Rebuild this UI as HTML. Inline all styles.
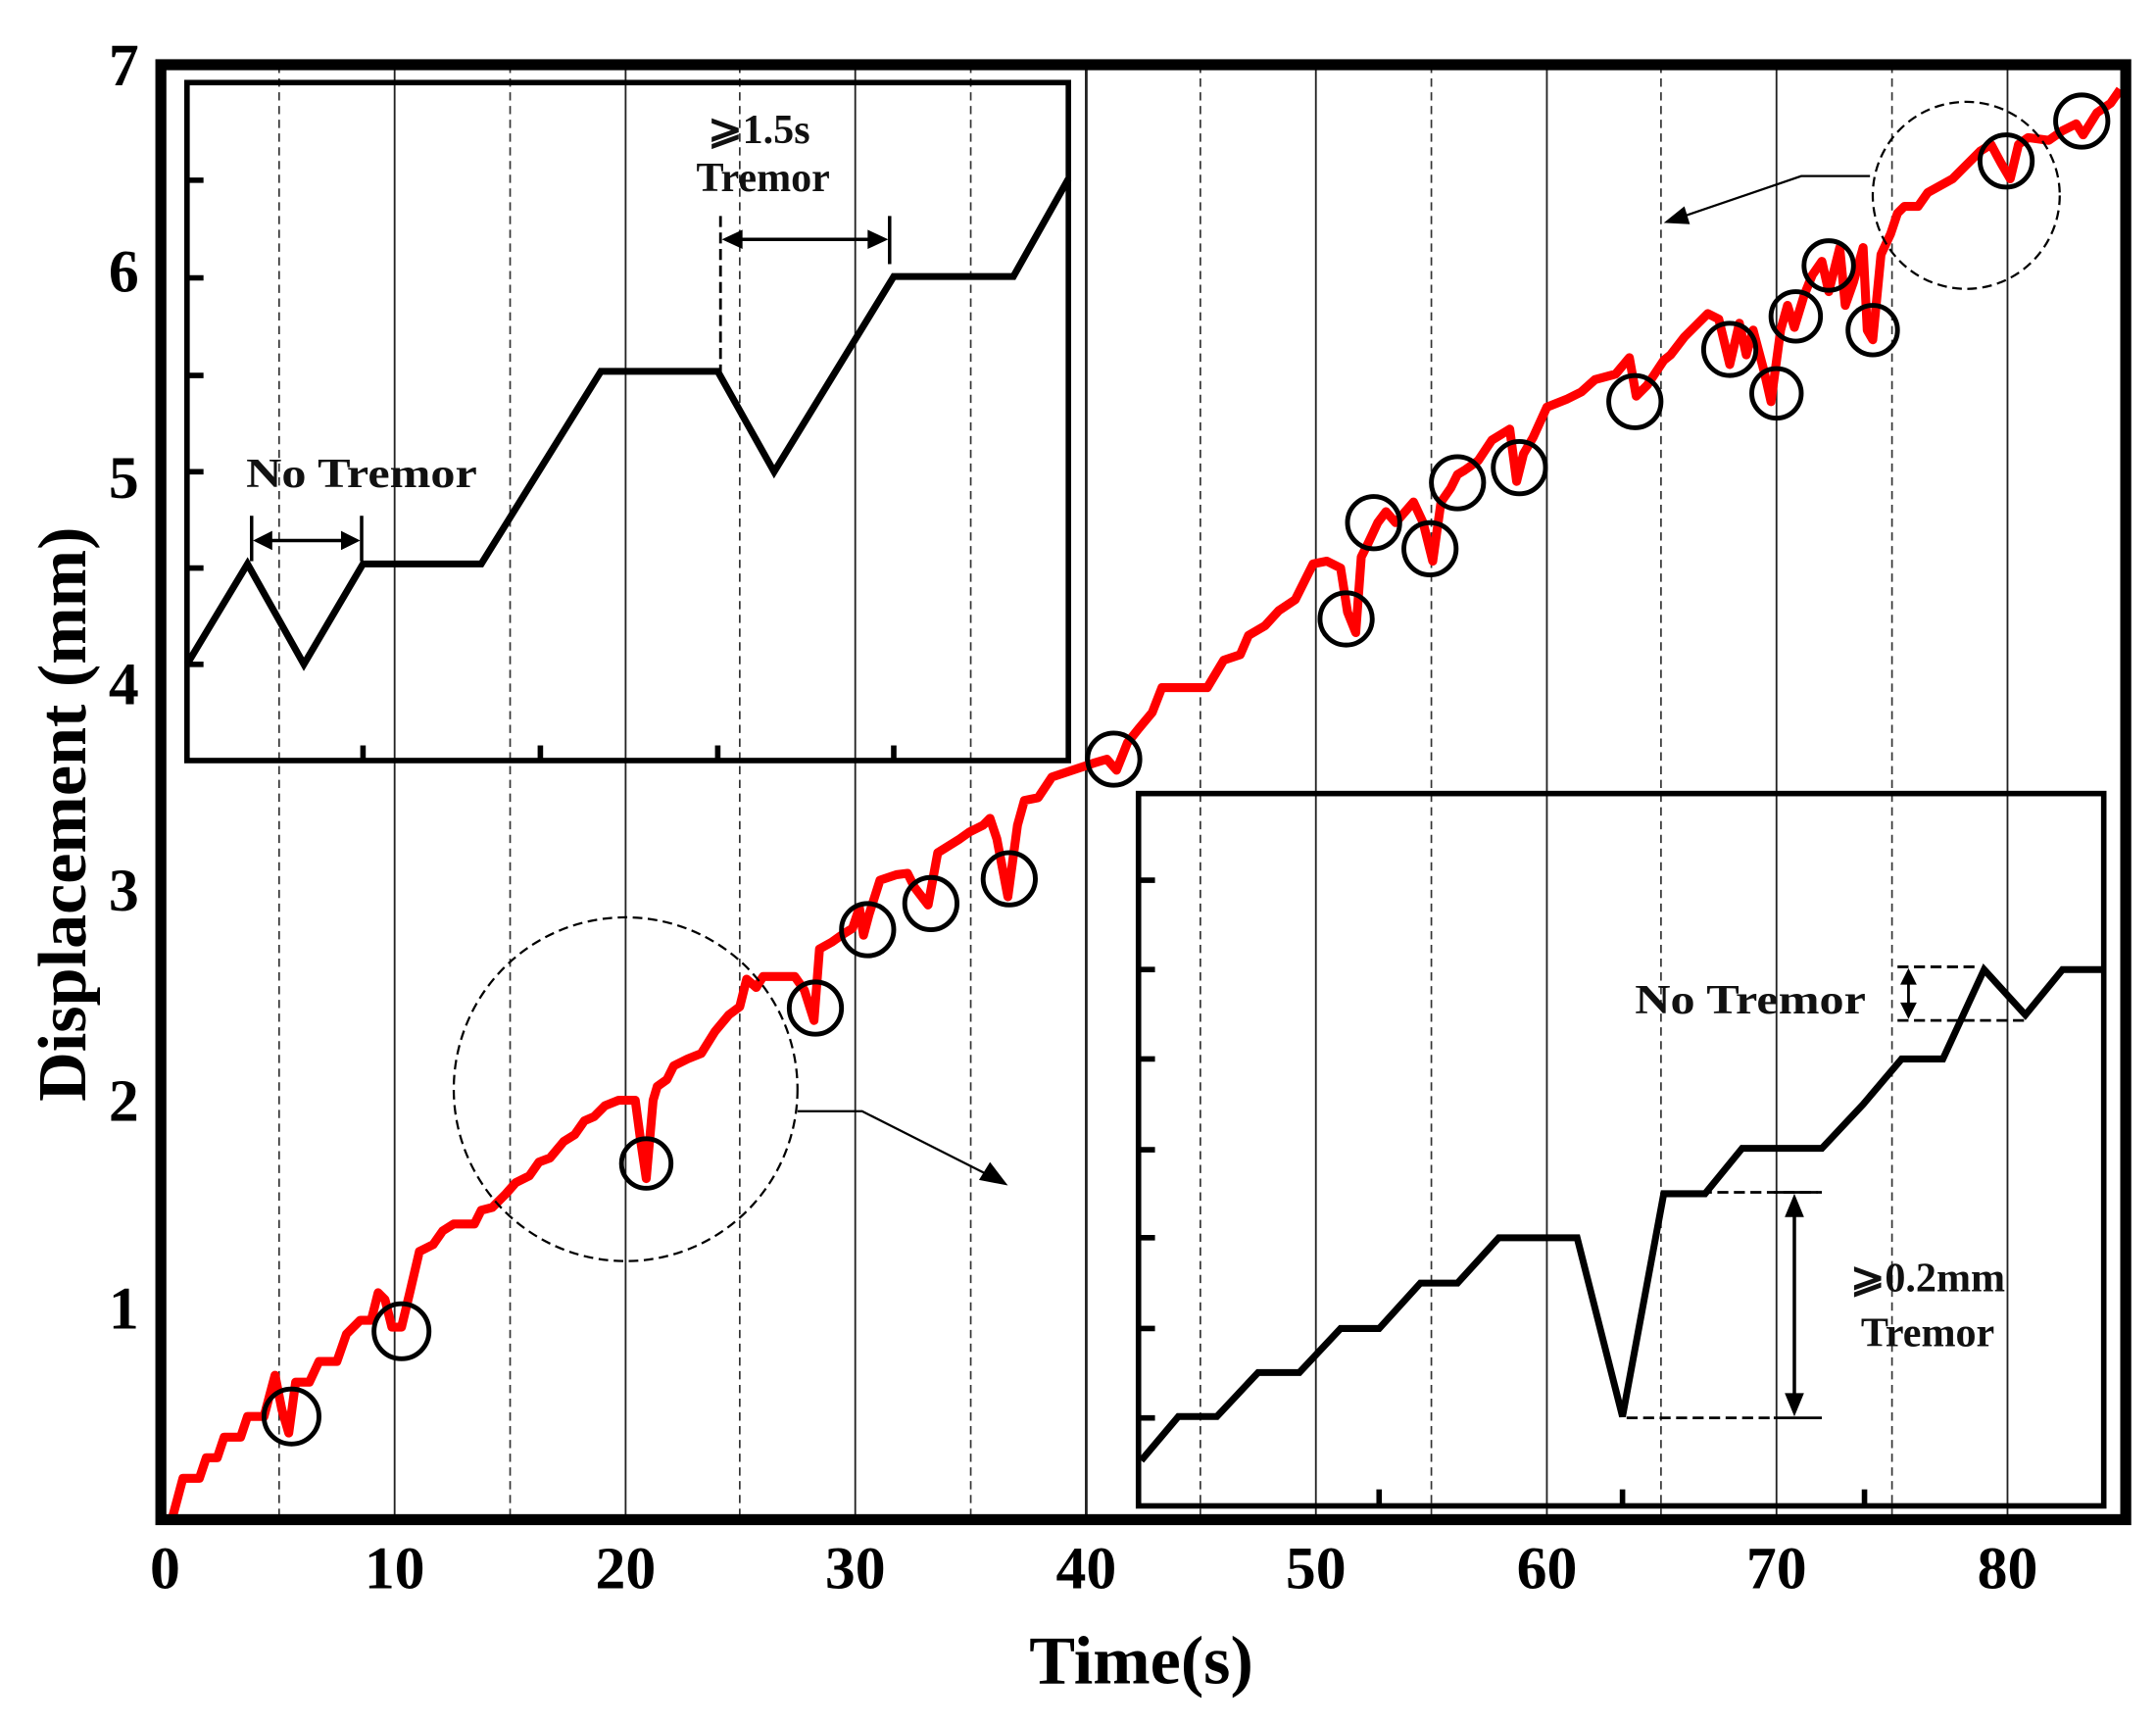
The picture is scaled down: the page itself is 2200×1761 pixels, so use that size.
<!DOCTYPE html>
<html><head><meta charset="utf-8"><style>
html,body{margin:0;padding:0;background:#fff;}
svg{display:block;}
text{font-family:"Liberation Serif","DejaVu Serif",serif;}
</style></head><body>
<svg width="2200" height="1761" viewBox="0 0 1568 1255" xmlns="http://www.w3.org/2000/svg">
<rect width="1568" height="1255" fill="#fff"/>
<g stroke="#222" stroke-width="1.3">
<line x1="287" y1="47" x2="287" y2="1105"/><line x1="455" y1="47" x2="455" y2="1105"/>
<line x1="622" y1="47" x2="622" y2="1105"/><line x1="790" y1="47" x2="790" y2="1105" stroke-width="2"/>
<line x1="957" y1="47" x2="957" y2="1105"/><line x1="1125" y1="47" x2="1125" y2="1105"/>
<line x1="1292" y1="47" x2="1292" y2="1105"/><line x1="1460" y1="47" x2="1460" y2="1105"/>
</g>
<g stroke="#333" stroke-width="1.2" stroke-dasharray="6,4">
<line x1="203" y1="47" x2="203" y2="1105"/><line x1="371" y1="47" x2="371" y2="1105"/>
<line x1="538" y1="47" x2="538" y2="1105"/><line x1="706" y1="47" x2="706" y2="1105"/>
<line x1="873" y1="47" x2="873" y2="1105"/><line x1="1041" y1="47" x2="1041" y2="1105"/>
<line x1="1208" y1="47" x2="1208" y2="1105"/><line x1="1376" y1="47" x2="1376" y2="1105"/>
</g>
<rect x="136" y="60" width="641" height="493" fill="none" stroke="#000" stroke-width="4"/>
<g stroke="#000" stroke-width="4">
<line x1="136" y1="131" x2="148" y2="131"/><line x1="136" y1="202" x2="148" y2="202"/>
<line x1="136" y1="273" x2="148" y2="273"/><line x1="136" y1="343" x2="148" y2="343"/>
<line x1="136" y1="413" x2="148" y2="413"/><line x1="136" y1="483" x2="148" y2="483"/>
<line x1="264" y1="553" x2="264" y2="542"/><line x1="393" y1="553" x2="393" y2="542"/>
<line x1="522" y1="553" x2="522" y2="542"/><line x1="650" y1="553" x2="650" y2="542"/>
</g>
<polyline fill="none" stroke="#000" stroke-width="5" points="136,483 180,410 221,483 264,410 350,410 437,270 522,270 563,343 650,201 737,201 777,130"/>
<g font-size="30" font-weight="bold" text-anchor="middle" fill="#111">
<text x="263" y="354" textLength="168" lengthAdjust="spacingAndGlyphs">No Tremor</text>
<text x="552" y="104">⩾1.5s</text>
<text x="555" y="139">Tremor</text>
<text x="1273" y="737" textLength="168" lengthAdjust="spacingAndGlyphs">No Tremor</text>
<text x="1402" y="939">⩾0.2mm</text>
<text x="1402" y="979">Tremor</text>
</g>
<g stroke="#000" stroke-width="2.5">
<line x1="183" y1="375" x2="183" y2="408"/><line x1="263" y1="375" x2="263" y2="408"/>
<line x1="188" y1="393" x2="258" y2="393"/>
</g>
<polygon points="184,393 198,386 198,400"/><polygon points="262,393 248,386 248,400"/>
<line x1="524" y1="157" x2="524" y2="270" stroke="#000" stroke-width="2" stroke-dasharray="8,4"/>
<line x1="647" y1="157" x2="647" y2="192" stroke="#000" stroke-width="2.5"/>
<line x1="530" y1="174" x2="641" y2="174" stroke="#000" stroke-width="2.5"/>
<polygon points="525,174 540,167 540,181"/><polygon points="646,174 631,167 631,181"/>
<rect x="828" y="577" width="702" height="518" fill="none" stroke="#000" stroke-width="4"/>
<g stroke="#000" stroke-width="4">
<line x1="828" y1="640" x2="840" y2="640"/><line x1="828" y1="705" x2="840" y2="705"/>
<line x1="828" y1="770" x2="840" y2="770"/><line x1="828" y1="836" x2="840" y2="836"/>
<line x1="828" y1="900" x2="840" y2="900"/><line x1="828" y1="966" x2="840" y2="966"/>
<line x1="828" y1="1031" x2="840" y2="1031"/>
<line x1="1003" y1="1095" x2="1003" y2="1083"/><line x1="1180" y1="1095" x2="1180" y2="1083"/><line x1="1356" y1="1095" x2="1356" y2="1083"/>
</g>
<polyline fill="none" stroke="#000" stroke-width="5" points="830,1062 857,1030 885,1030 915,998 945,998 975,966 1003,966 1033,933 1060,933 1090,900 1147,900 1180,1030 1210,868 1240,868 1267,835 1325,835 1355,803 1383,770 1413,770 1443,705 1473,738 1500,705 1530,705"/>
<g stroke="#000" stroke-width="2" stroke-dasharray="8,4">
<line x1="1380" y1="703" x2="1440" y2="703"/><line x1="1380" y1="742" x2="1475" y2="742"/>
<line x1="1213" y1="867" x2="1322" y2="867"/><line x1="1183" y1="1031" x2="1290" y2="1031"/>
</g>
<line x1="1290" y1="1031" x2="1325" y2="1031" stroke="#000" stroke-width="2"/>
<line x1="1290" y1="867" x2="1325" y2="867" stroke="#000" stroke-width="2"/>
<line x1="1388" y1="708" x2="1388" y2="737" stroke="#000" stroke-width="2"/>
<polygon points="1388,704 1382,716 1394,716"/><polygon points="1388,741 1382,729 1394,729"/>
<line x1="1305" y1="875" x2="1305" y2="1024" stroke="#000" stroke-width="2.5"/>
<polygon points="1305,868 1298,885 1312,885"/><polygon points="1305,1030 1298,1013 1312,1013"/>
<polyline fill="none" stroke="#ff0000" stroke-width="6.5" stroke-linejoin="round" points="125,1105 133,1075 145,1075 150,1060 158,1060 163,1045 175,1045 180,1030 192,1030 200,1000 205,1025 210,1042 215,1005 225,1005 232,990 245,990 252,970 262,960 270,960 275,940 280,945 285,965 292,965 298,940 305,910 315,905 322,895 330,890 345,890 350,880 358,878 368,868 375,860 385,855 392,845 400,842 410,830 418,825 425,815 432,812 440,804 450,800 462,800 466,830 470,857 475,800 478,790 485,785 490,775 500,770 510,766 520,750 530,738 538,732 543,712 550,718 555,710 565,710 578,710 585,720 592,742 596,690 605,685 612,680 620,675 625,660 628,680 632,665 640,640 652,636 660,635 665,645 675,658 682,620 690,615 698,610 705,605 715,600 720,595 725,610 733,652 740,600 745,582 755,580 765,565 780,560 795,555 805,552 812,560 820,540 828,530 838,518 845,500 858,500 878,500 890,480 902,476 908,462 920,455 930,444 942,436 955,410 965,408 975,413 980,445 986,460 990,405 995,395 1002,380 1008,372 1015,380 1028,365 1035,380 1042,408 1048,365 1055,355 1060,345 1065,342 1075,335 1085,320 1098,312 1103,350 1108,330 1115,318 1125,296 1140,290 1150,285 1160,276 1175,272 1185,260 1190,288 1198,280 1210,262 1215,258 1225,245 1235,235 1242,228 1250,232 1258,265 1265,235 1270,258 1275,240 1283,270 1288,292 1295,240 1300,222 1305,238 1312,215 1318,200 1325,190 1330,212 1338,180 1342,222 1348,205 1355,180 1358,240 1362,247 1368,185 1375,170 1380,155 1385,150 1395,150 1402,140 1420,130 1430,120 1440,110 1448,105 1455,118 1462,130 1468,105 1475,100 1490,102 1500,95 1510,90 1515,98 1525,82 1535,75 1542,65"/>
<g fill="none" stroke="#000" stroke-width="3.5">
<circle cx="212" cy="1030" r="20"/><circle cx="292" cy="968" r="20"/><circle cx="470" cy="846" r="18"/>
<circle cx="593" cy="733" r="19"/><circle cx="631" cy="676" r="19"/><circle cx="677" cy="657" r="19"/>
<circle cx="734" cy="639" r="19"/><circle cx="810" cy="552" r="19"/><circle cx="979" cy="450" r="19"/>
<circle cx="999" cy="380" r="19"/><circle cx="1040" cy="399" r="19"/><circle cx="1060" cy="351" r="19"/>
<circle cx="1105" cy="340" r="19"/><circle cx="1189" cy="292" r="19"/><circle cx="1258" cy="254" r="19"/>
<circle cx="1292" cy="286" r="18"/><circle cx="1306" cy="230" r="18"/><circle cx="1330" cy="193" r="18"/>
<circle cx="1362" cy="240" r="18"/><circle cx="1459" cy="117" r="19"/><circle cx="1514" cy="88" r="19"/>
</g>
<g fill="none" stroke="#000" stroke-width="1.6" stroke-dasharray="7,4">
<circle cx="455" cy="792" r="125"/><circle cx="1430" cy="142" r="68"/>
</g>
<polyline fill="none" stroke="#000" stroke-width="1.6" points="580,808 627,808 722,856"/>
<polygon points="733,862 712,858 720,845"/>
<polyline fill="none" stroke="#000" stroke-width="1.6" points="1360,128 1310,128 1222,158"/>
<polygon points="1210,162 1225,150 1229,163"/>
<rect x="117" y="47" width="1429" height="1058" fill="none" stroke="#000" stroke-width="8"/>
<g font-size="44" font-weight="bold" text-anchor="middle">
<text x="120" y="1155">0</text><text x="287" y="1155">10</text><text x="455" y="1155">20</text>
<text x="622" y="1155">30</text><text x="790" y="1155">40</text><text x="957" y="1155">50</text>
<text x="1125" y="1155">60</text><text x="1292" y="1155">70</text><text x="1460" y="1155">80</text>
</g>
<g font-size="44" font-weight="bold" text-anchor="middle">
<text x="90" y="62">7</text><text x="90" y="212">6</text><text x="90" y="362">5</text>
<text x="90" y="512">4</text><text x="90" y="662">3</text><text x="90" y="815">2</text><text x="90" y="966">1</text>
</g>
<text x="830" y="1224" font-size="50" font-weight="bold" text-anchor="middle">Time(s)</text>
<text transform="translate(62,592) rotate(-90)" font-size="50" font-weight="bold" text-anchor="middle">Displacement (mm)</text>
</svg>
</body></html>
